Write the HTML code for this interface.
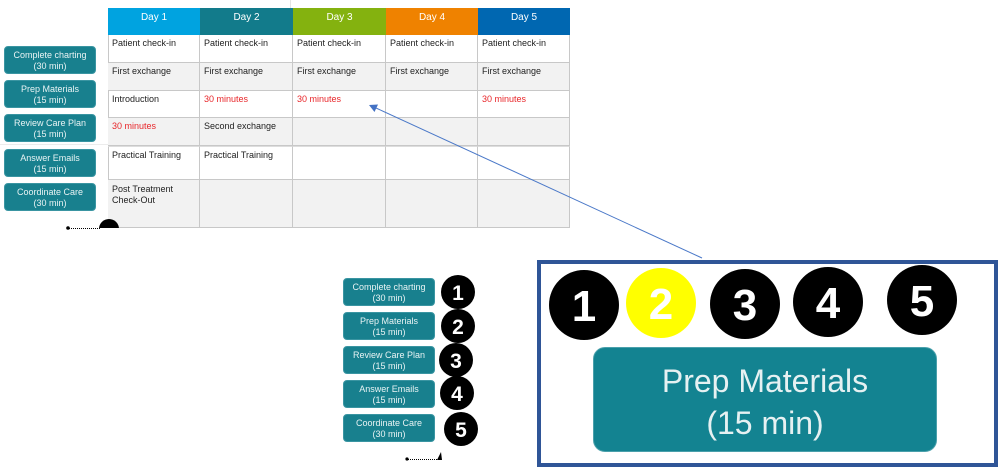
<!DOCTYPE html>
<html><head><meta charset="utf-8"><style>
*{margin:0;padding:0;box-sizing:border-box}
body{width:999px;height:468px;background:#fff;position:relative;overflow:hidden;font-family:"Liberation Sans",sans-serif}
.a{position:absolute}
.hd{position:absolute;top:8px;height:27px;color:#fff;font-size:10px;text-align:center;line-height:19px}
.c{position:absolute;font-size:9px;color:#222;padding:3px 0 0 4px;line-height:11px;border-right:1px solid #c8c8c8;border-bottom:1px solid #c8c8c8}
.g{background:#f2f2f2}
.r{color:#e8262a}
.bx{position:absolute;width:92px;height:28px;background:#18808e;border:1px solid #3a95a2;border-radius:4px;color:#e9f3f4;font-size:9px;text-align:center;line-height:11px;padding-top:3px}
</style></head><body>

<!-- faint lines -->
<div class="a" style="left:290px;top:0;width:1px;height:8px;background:#e4e4e4"></div>
<div class="a" style="left:0;top:144px;width:108px;height:1px;background:#ececec"></div>

<!-- headers -->
<div class="hd" style="left:108px;width:92px;background:#00a3e0">Day 1</div>
<div class="hd" style="left:200px;width:93px;background:#127b8b">Day 2</div>
<div class="hd" style="left:293px;width:93px;background:#84b20f">Day 3</div>
<div class="hd" style="left:386px;width:92px;background:#ef8200">Day 4</div>
<div class="hd" style="left:478px;width:92px;background:#0067b1">Day 5</div>
<div class="a" style="left:108px;top:35px;width:1px;height:193px;background:#c8c8c8"></div>

<!-- row 1 -->
<div class="c" style="left:108px;top:35px;width:92px;height:28px">Patient check-in</div>
<div class="c" style="left:200px;top:35px;width:93px;height:28px">Patient check-in</div>
<div class="c" style="left:293px;top:35px;width:93px;height:28px">Patient check-in</div>
<div class="c" style="left:386px;top:35px;width:92px;height:28px">Patient check-in</div>
<div class="c" style="left:478px;top:35px;width:92px;height:28px">Patient check-in</div>
<!-- row 2 -->
<div class="c g" style="left:108px;top:63px;width:92px;height:28px">First exchange</div>
<div class="c g" style="left:200px;top:63px;width:93px;height:28px">First exchange</div>
<div class="c g" style="left:293px;top:63px;width:93px;height:28px">First exchange</div>
<div class="c g" style="left:386px;top:63px;width:92px;height:28px">First exchange</div>
<div class="c g" style="left:478px;top:63px;width:92px;height:28px">First exchange</div>
<!-- row 3 -->
<div class="c" style="left:108px;top:91px;width:92px;height:27px">Introduction</div>
<div class="c r" style="left:200px;top:91px;width:93px;height:27px">30 minutes</div>
<div class="c r" style="left:293px;top:91px;width:93px;height:27px">30 minutes</div>
<div class="c" style="left:386px;top:91px;width:92px;height:27px"></div>
<div class="c r" style="left:478px;top:91px;width:92px;height:27px">30 minutes</div>
<!-- row 4 -->
<div class="c g r" style="left:108px;top:118px;width:92px;height:28px">30 minutes</div>
<div class="c g" style="left:200px;top:118px;width:93px;height:28px">Second exchange</div>
<div class="c g" style="left:293px;top:118px;width:93px;height:28px"></div>
<div class="c g" style="left:386px;top:118px;width:92px;height:28px"></div>
<div class="c g" style="left:478px;top:118px;width:92px;height:28px"></div>
<!-- row 5 -->
<div class="c" style="left:108px;top:146px;width:92px;height:34px;border-top:1px solid #ddd">Practical Training</div>
<div class="c" style="left:200px;top:146px;width:93px;height:34px;border-top:1px solid #ddd">Practical Training</div>
<div class="c" style="left:293px;top:146px;width:93px;height:34px;border-top:1px solid #ddd"></div>
<div class="c" style="left:386px;top:146px;width:92px;height:34px;border-top:1px solid #ddd"></div>
<div class="c" style="left:478px;top:146px;width:92px;height:34px;border-top:1px solid #ddd"></div>
<!-- row 6 -->
<div class="c g" style="left:108px;top:180px;width:92px;height:48px;padding-top:4px">Post Treatment<br>Check-Out</div>
<div class="c g" style="left:200px;top:180px;width:93px;height:48px"></div>
<div class="c g" style="left:293px;top:180px;width:93px;height:48px"></div>
<div class="c g" style="left:386px;top:180px;width:92px;height:48px"></div>
<div class="c g" style="left:478px;top:180px;width:92px;height:48px"></div>

<!-- left boxes -->
<div class="bx" style="left:4px;top:46px">Complete charting<br>(30 min)</div>
<div class="bx" style="left:4px;top:80px">Prep Materials<br>(15 min)</div>
<div class="bx" style="left:4px;top:114px">Review Care Plan<br>(15 min)</div>
<div class="bx" style="left:4px;top:149px">Answer Emails<br>(15 min)</div>
<div class="bx" style="left:4px;top:183px">Coordinate Care<br>(30 min)</div>

<!-- bottom boxes -->
<div class="bx" style="left:343px;top:278px">Complete charting<br>(30 min)</div>
<div class="bx" style="left:343px;top:312px">Prep Materials<br>(15 min)</div>
<div class="bx" style="left:343px;top:346px">Review Care Plan<br>(15 min)</div>
<div class="bx" style="left:343px;top:380px">Answer Emails<br>(15 min)</div>
<div class="bx" style="left:343px;top:414px">Coordinate Care<br>(30 min)</div>

<!-- big box -->
<div class="a" style="left:537px;top:260px;width:461px;height:207px;border:4px solid #2f5597;background:#fff"></div>
<div class="a" style="left:593px;top:347px;width:344px;height:105px;background:#138391;border:1px solid #4aa0ab;border-radius:12px;color:#e6f1f2;font-size:32px;line-height:42px;text-align:center;padding-top:12px">Prep Materials<br>(15 min)</div>

<svg class="a" style="left:0;top:0" width="999" height="468" viewBox="0 0 999 468">
  <defs><clipPath id="cp"><rect x="0" y="0" width="999" height="228"/></clipPath></defs>
  <!-- bottom-left marks -->
  <circle cx="68" cy="228" r="1.8" fill="#000"/>
  <line x1="69" y1="228.5" x2="100" y2="228.5" stroke="#000" stroke-width="1" stroke-dasharray="1,1"/>
  <circle cx="109" cy="229" r="10" fill="#000" clip-path="url(#cp)"/>
  <circle cx="407" cy="459" r="1.6" fill="#000"/>
  <line x1="408" y1="459.5" x2="439" y2="459.5" stroke="#000" stroke-width="1" stroke-dasharray="1,1"/>
  <path d="M437 460 L441 452 L442 460 Z" fill="#000"/>

  <!-- connector -->
  <line x1="702" y1="258" x2="376" y2="108" stroke="#4a78c8" stroke-width="1"/>
  <path d="M369 105 L378 104.5 L374.5 112 Z" fill="#4472c4"/>

  <!-- small circles -->
  <g font-family="Liberation Sans, sans-serif" font-size="21" font-weight="bold" fill="#fff" text-anchor="middle">
    <circle cx="458" cy="292" r="17" fill="#000"/><text x="458" y="300">1</text>
    <circle cx="458" cy="326" r="17" fill="#000"/><text x="458" y="334">2</text>
    <circle cx="456" cy="360" r="17" fill="#000"/><text x="456" y="368">3</text>
    <circle cx="457" cy="393" r="17" fill="#000"/><text x="457" y="401">4</text>
    <circle cx="461" cy="429" r="17" fill="#000"/><text x="461" y="437">5</text>
  </g>
  <!-- big circles -->
  <g font-family="Liberation Sans, sans-serif" font-size="44" font-weight="bold" fill="#fff" text-anchor="middle">
    <circle cx="584" cy="305" r="35" fill="#000"/><text x="584" y="321">1</text>
    <circle cx="661" cy="303" r="35" fill="#ffff00"/><text x="661" y="319">2</text>
    <circle cx="745" cy="304" r="35" fill="#000"/><text x="745" y="320">3</text>
    <circle cx="828" cy="302" r="35" fill="#000"/><text x="828" y="318">4</text>
    <circle cx="922" cy="300" r="35" fill="#000"/><text x="922" y="316">5</text>
  </g>
</svg>
</body></html>
